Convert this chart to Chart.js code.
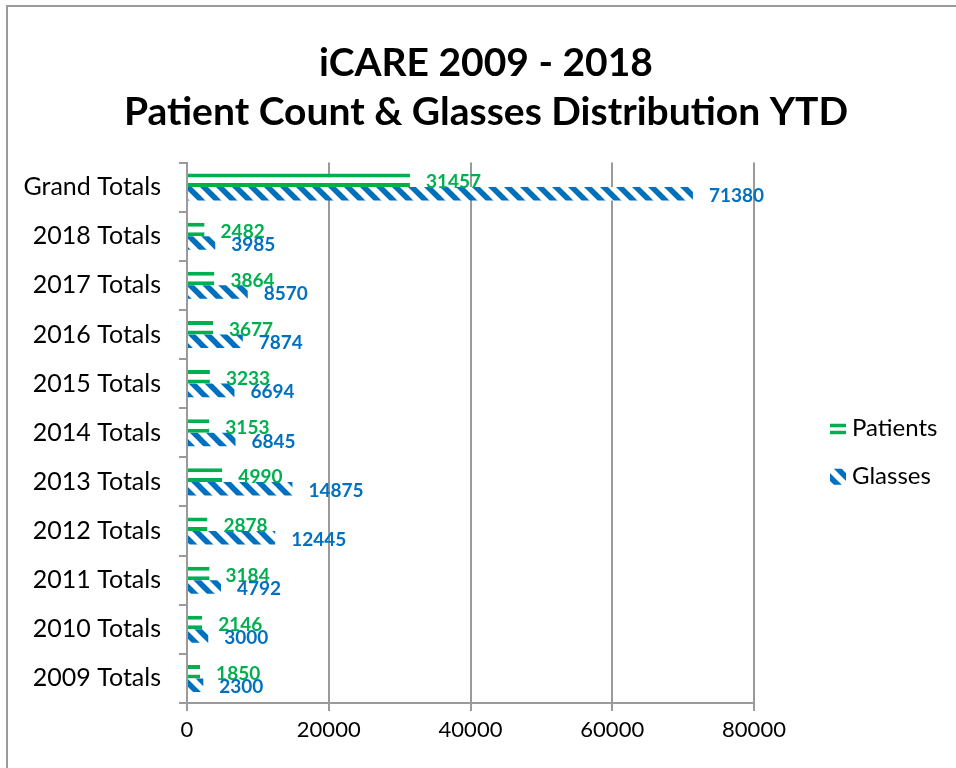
<!DOCTYPE html>
<html>
<head>
<meta charset="utf-8">
<script src="https://cdn.jsdelivr.net/npm/chart.js@4"></script>
<style>
  html, body { margin: 0; padding: 0; background: #fff; overflow: hidden; }
  #wrap { position: absolute; left: 6px; top: 5px; width: 966px; height: 780px;
          border: 2px solid #9a9a9a; background: #fff; }
</style>
</head>
<body>
<div id="wrap"><canvas id="chart" width="966" height="780"></canvas></div>
<script>
const categories = ['Grand Totals', '2018 Totals', '2017 Totals', '2016 Totals', '2015 Totals',
                    '2014 Totals', '2013 Totals', '2012 Totals', '2011 Totals', '2010 Totals', '2009 Totals']
const patients = [31457, 2482, 3864, 3677, 3233, 3153, 4990, 2878, 3184, 2146, 1850]
const glasses  = [71380, 3985, 8570, 7874, 6694, 6845, 14875, 12445, 4792, 3000, 2300]
const xTicks   = [0, 20000, 40000, 60000, 80000]

const GREEN = '#00b050'
const BLUE  = '#0070c0'
const GRID  = '#9a9a9a'
const FONT  = 'Lato'

// wide downward diagonal, like the Excel fill
function diagonalPattern(ctx) {
  const tile = document.createElement('canvas')
  tile.width = 16; tile.height = 16
  const t = tile.getContext('2d')
  t.fillStyle = '#fff'
  t.fillRect(0, 0, 16, 16)
  t.strokeStyle = BLUE
  t.lineWidth = 5.5
  for (let k = -1; k <= 1; k++) {
    t.beginPath()
    t.moveTo(k * 16 - 4, -4)
    t.lineTo(k * 16 + 20, 20)
    t.stroke()
  }
  return ctx.createPattern(tile, 'repeat')
}

const valueLabels = {
  id: 'valueLabels',
  afterDatasetsDraw(chart) {
    const ctx = chart.ctx
    chart.data.datasets.forEach((ds, i) => {
      const meta = chart.getDatasetMeta(i)
      ctx.save()
      ctx.font = `bold 19px ${FONT}`
      ctx.fillStyle = ds.labelColor
      ctx.textBaseline = 'middle'
      meta.data.forEach((bar, j) => ctx.fillText(String(ds.data[j]), bar.x + 16, bar.y + 2))
      ctx.restore()
    })
  }
}

const sideLegend = {
  id: 'sideLegend',
  afterDraw(chart) {
    const ctx = chart.ctx
    const area = chart.chartArea
    const cy = (area.top + area.bottom) / 2 + 20
    const x = 822
    ctx.save()
    ctx.font = `24px ${FONT}`
    ctx.textBaseline = 'middle'
    // Patients
    let y = cy - 24
    ctx.fillStyle = GREEN
    ctx.fillRect(x, y - 5, 16, 3.5)
    ctx.fillRect(x, y + 2, 16, 3.5)
    ctx.fillStyle = '#000'
    ctx.fillText(chart.data.datasets[0].label, x + 22, y)
    // Glasses
    y = cy + 24
    ctx.fillStyle = diagonalPattern(ctx)
    ctx.beginPath()
    ctx.moveTo(x + 4, y - 8); ctx.lineTo(x + 16, y - 8); ctx.lineTo(x + 16, y + 4)
    ctx.lineTo(x + 12, y + 8); ctx.lineTo(x, y + 8); ctx.lineTo(x, y - 4)
    ctx.closePath()
    ctx.fill()
    ctx.fillStyle = '#000'
    ctx.fillText(chart.data.datasets[1].label, x + 22, y)
    ctx.restore()
  }
}

Chart.defaults.color = '#000'
Chart.defaults.font.family = FONT

const canvas = document.getElementById('chart')
const ctx = canvas.getContext('2d')

new Chart(canvas, {
  type: 'bar',
  data: {
    labels: categories,
    datasets: [
      {
        label: 'Patients',
        data: patients,
        backgroundColor: '#fff',
        borderColor: GREEN,
        borderWidth: { top: 4, bottom: 4, left: 0, right: 0 },
        borderSkipped: false,
        labelColor: GREEN,
      },
      {
        label: 'Glasses',
        data: glasses,
        backgroundColor: diagonalPattern(ctx),
        borderWidth: 0,
        labelColor: BLUE,
      },
    ],
  },
  options: {
    indexAxis: 'y',
    responsive: false,
    animation: false,
    categoryPercentage: 0.55,
    barPercentage: 1,
    layout: { padding: { left: 0, right: 10, top: 0, bottom: 0 } },
    plugins: {
      legend: { display: false },
      tooltip: { enabled: false },
      title: {
        display: true,
        text: ['iCARE 2009 - 2018', 'Patient Count & Glasses Distribution YTD'],
        font: { size: 39, weight: 'bold', lineHeight: 1.25 },
        padding: { top: 32, bottom: 26 },
      },
    },
    scales: {
      x: {
        min: 0,
        max: 80000,
        afterBuildTicks: s => { s.ticks = xTicks.map(v => ({ value: v })) },
        afterFit: s => { s.height = 84 },
        ticks: { font: { size: 22 }, padding: 6, maxRotation: 0, callback: v => String(v) },
        grid: { color: GRID, lineWidth: 2, tickLength: 8, drawTicks: true },
        border: { color: GRID, width: 2 },
      },
      y: {
        afterFit: s => { s.width = 179 },
        ticks: { font: { size: 25 }, padding: 18 },
        grid: { drawOnChartArea: false, offset: true, color: GRID, lineWidth: 2, tickLength: 8 },
        border: { color: GRID, width: 2 },
      },
      // empty right-hand band that leaves room for the legend
      side: {
        axis: 'y',
        position: 'right',
        afterFit: s => { s.width = 210 },
        ticks: { display: false },
        grid: { display: false },
        border: { display: false },
      },
    },
  },
  plugins: [valueLabels, sideLegend],
})
</script>
</body>
</html>
